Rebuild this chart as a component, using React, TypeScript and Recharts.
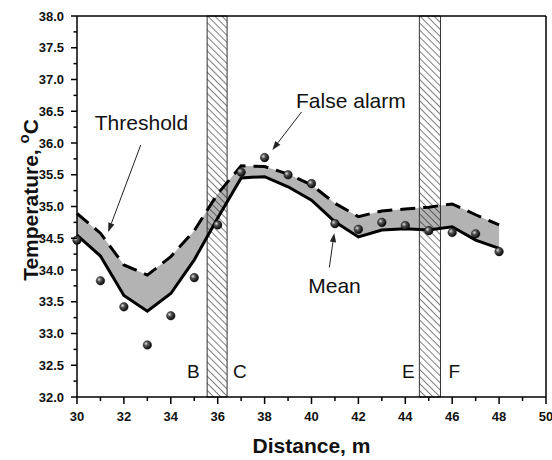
import React from 'react'
import {
  ComposedChart,
  Area,
  Line,
  Scatter,
  XAxis,
  YAxis,
  ReferenceArea,
  ReferenceLine,
  ReferenceDot,
} from 'recharts'

// distance along the line, m
const distance = [30, 31, 32, 33, 34, 35, 36, 37, 38, 39, 40, 41, 42, 43, 44, 45, 46, 47, 48]
const meanTemp = [34.55, 34.22, 33.6, 33.35, 33.63, 34.16, 34.82, 35.45, 35.47, 35.31, 35.1, 34.76, 34.52, 34.63, 34.65, 34.63, 34.68, 34.47, 34.34]
const thresholdTemp = [34.89, 34.58, 34.08, 33.92, 34.21, 34.62, 35.2, 35.64, 35.63, 35.51, 35.34, 35.05, 34.84, 34.93, 34.96, 34.99, 35.04, 34.87, 34.71]
const measured = [34.47, 33.83, 33.42, 32.82, 33.28, 33.88, 34.71, 35.54, 35.77, 35.5, 35.36, 34.73, 34.64, 34.75, 34.7, 34.62, 34.59, 34.57, 34.29]

const xTicks = [30, 31, 32, 33, 34, 35, 36, 37, 38, 39, 40, 41, 42, 43, 44, 45, 46, 47, 48, 49, 50]
const yTicks = [
  32, 32.25, 32.5, 32.75, 33, 33.25, 33.5, 33.75, 34, 34.25, 34.5, 34.75, 35, 35.25,
  35.5, 35.75, 36, 36.25, 36.5, 36.75, 37, 37.25, 37.5, 37.75, 38,
]

// hatched zones (from, to)
const zones = [
  [35.55, 36.4],
  [44.6, 45.5],
]

const notes = [
  { text: 'Threshold', x: 32.75, y: 36.32, size: 21 },
  { text: 'False alarm', x: 41.68, y: 36.67, size: 21 },
  { text: 'Mean', x: 40.98, y: 33.75, size: 21 },
  { text: 'B', x: 34.96, y: 32.41, size: 19 },
  { text: 'C', x: 36.95, y: 32.41, size: 19 },
  { text: 'E', x: 44.13, y: 32.41, size: 19 },
  { text: 'F', x: 46.09, y: 32.41, size: 19 },
]

const arrows = [
  [{ x: 32.72, y: 35.97 }, { x: 31.33, y: 34.6 }],
  [{ x: 39.58, y: 36.49 }, { x: 38.33, y: 35.89 }],
  [{ x: 40.76, y: 34.04 }, { x: 40.97, y: 34.58 }],
]

const data = distance.map((x, i) => ({
  x,
  band: [meanTemp[i], thresholdTemp[i]],
  mean: meanTemp[i],
  threshold: thresholdTemp[i],
  dot: measured[i],
}))

const font = '"Liberation Sans", Arial, sans-serif'

const XTick = ({ x, y, payload }: any) => {
  const major = payload.value % 2 === 0
  return (
    <g>
      <line x1={x} y1={y} x2={x} y2={y + (major ? 7 : 4)} stroke="#000" strokeWidth={1.5} />
      {major && (
        <text x={x} y={y + 24} textAnchor="middle" fontSize={13} fontWeight="bold" fill="#111" fontFamily={font}>
          {payload.value}
        </text>
      )}
    </g>
  )
}

const YTick = ({ x, y, payload }: any) => {
  const v = payload.value
  const major = Math.abs(v * 2 - Math.round(v * 2)) < 1e-6
  return (
    <g>
      <line x1={x - (major ? 6 : 3.5)} y1={y} x2={x} y2={y} stroke="#000" strokeWidth={1.5} />
      {major && (
        <text x={x - 13} y={y + 4.5} textAnchor="end" fontSize={13} fontWeight="bold" fill="#111" fontFamily={font}>
          {v.toFixed(1)}
        </text>
      )}
    </g>
  )
}

const Ball = ({ cx, cy }: any) => (
  <circle cx={cx} cy={cy} r={4.3} fill="url(#ball)" stroke="#000" strokeWidth={0.4} />
)

const Arrow = ({ x1, y1, x2, y2 }: any) => {
  const a = Math.atan2(y2 - y1, x2 - x1)
  const L = 9
  const W = 3.2
  const bx = x2 - L * Math.cos(a)
  const by = y2 - L * Math.sin(a)
  const pts = `${x2},${y2} ${bx - W * Math.sin(a)},${by + W * Math.cos(a)} ${bx + W * Math.sin(a)},${by - W * Math.cos(a)}`
  return (
    <g>
      <line x1={x1} y1={y1} x2={bx} y2={by} stroke="#222" strokeWidth={1} />
      <polygon points={pts} fill="#222" />
    </g>
  )
}

const YLabel = () => (
  <text
    transform="translate(38,200) rotate(-90)"
    textAnchor="middle"
    fontSize={21}
    fontWeight="bold"
    fill="#111"
    fontFamily={font}
  >
    <tspan>Temperature, </tspan>
    <tspan dy={-9} fontSize={15}>o</tspan>
    <tspan dy={9}>C</tspan>
  </text>
)

export default function App() {
  return (
    <div style={{ position: 'absolute', left: 0, top: 0, width: 552, height: 460, background: '#fff' }}>
      <ComposedChart width={552} height={460} data={data} margin={{ top: 16, right: 6, left: 0, bottom: 0 }}>
        <defs>
          <pattern id="hatch" patternUnits="userSpaceOnUse" width={5} height={5} patternTransform="rotate(-45)">
            <line x1={0} y1={0} x2={0} y2={5} stroke="#111" strokeWidth={1.1} />
          </pattern>
          <radialGradient id="ball" cx="35%" cy="35%" r="70%">
            <stop offset="0%" stopColor="#e0e0e0" />
            <stop offset="35%" stopColor="#555" />
            <stop offset="100%" stopColor="#000" />
          </radialGradient>
        </defs>
        <XAxis
          dataKey="x"
          type="number"
          domain={[30, 50]}
          ticks={xTicks}
          interval={0}
          height={63}
          tickSize={0}
          tickMargin={0}
          tick={<XTick />}
          axisLine={{ stroke: '#000', strokeWidth: 1.5 }}
          label={{
            value: 'Distance, m',
            position: 'insideBottom',
            offset: 7,
            fontSize: 21,
            fontWeight: 'bold',
            fill: '#111',
            fontFamily: font,
          }}
        />
        <YAxis
          type="number"
          domain={[32, 38]}
          ticks={yTicks}
          interval={0}
          width={77}
          tickSize={0}
          tickMargin={0}
          tick={<YTick />}
          axisLine={{ stroke: '#000', strokeWidth: 1.5 }}
          allowDataOverflow
          label={{ content: <YLabel /> }}
        />
        <ReferenceLine y={38} stroke="#000" strokeWidth={1.5} />
        <ReferenceLine x={50} stroke="#000" strokeWidth={1.5} />
        <Area
          type="linear"
          dataKey="band"
          stroke="none"
          fill="#b3b3b3"
          fillOpacity={1}
          isAnimationActive={false}
        />
        <Line
          type="linear"
          dataKey="threshold"
          stroke="#000"
          strokeWidth={3}
          strokeDasharray="15 8"
          dot={false}
          isAnimationActive={false}
        />
        <Line
          type="linear"
          dataKey="mean"
          stroke="#000"
          strokeWidth={3}
          dot={false}
          isAnimationActive={false}
        />
        <Scatter dataKey="dot" shape={<Ball />} isAnimationActive={false} />
        {zones.map(([a, b], i) => (
          <ReferenceArea
            key={i}
            x1={a}
            x2={b}
            y1={32}
            y2={38}
            fill="url(#hatch)"
            fillOpacity={1}
            stroke="#333"
            strokeWidth={1}
          />
        ))}
        {arrows.map((seg, i) => (
          <ReferenceLine key={'a' + i} segment={seg} shape={(p: any) => <Arrow {...p} />} />
        ))}
        {notes.map((n) => (
          <ReferenceDot
            key={n.text}
            x={n.x}
            y={n.y}
            r={0}
            shape={(p: any) => (
              <text
                x={p.cx}
                y={p.cy + n.size * 0.36}
                textAnchor="middle"
                fontSize={n.size}
                fill="#111"
                fontFamily={font}
              >
                {n.text}
              </text>
            )}
          />
        ))}
      </ComposedChart>
    </div>
  )
}
